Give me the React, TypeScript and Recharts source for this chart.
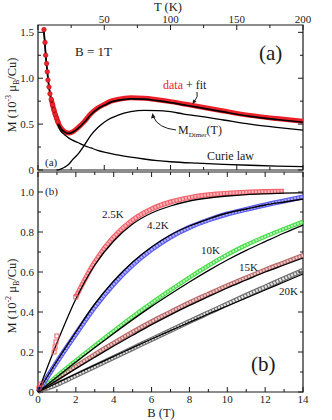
import React from 'react';
import { LineChart, Line, XAxis, YAxis, ReferenceArea } from 'recharts';

// panel (a): M(T) at B = 1T, units 10^-3 muB/Cu
const tempFit = [4.3, 5, 6, 7, 8, 9, 10, 12, 14, 16, 18, 20, 23, 26, 30, 35, 40, 45, 50, 55, 60, 70, 80, 90, 100, 110, 120, 140, 160, 180, 200];
const mFit = [1.53, 1.42, 1.22, 1.07, 0.94, 0.84, 0.76, 0.645, 0.555, 0.485, 0.44, 0.415, 0.4, 0.41, 0.45, 0.52, 0.605, 0.665, 0.705, 0.74, 0.758, 0.776, 0.772, 0.755, 0.735, 0.71, 0.685, 0.633, 0.585, 0.55, 0.52];

const tempData = [10, 12, 14, 16, 18, 20, 23, 26, 30, 35, 40, 45, 50, 55, 60, 70, 80, 90, 100, 110, 120, 140, 160, 180, 200];
const mData = [0.77, 0.655, 0.565, 0.49, 0.445, 0.418, 0.403, 0.415, 0.458, 0.53, 0.615, 0.675, 0.715, 0.75, 0.768, 0.786, 0.782, 0.765, 0.745, 0.72, 0.695, 0.643, 0.595, 0.56, 0.53];

const tempLow = [4.5, 5.3, 5.8, 6.5, 7, 7.5, 8.3, 9, 10, 11, 12, 13, 14, 15];
const mLow = [1.53, 1.39, 1.25, 1.16, 1.07, 0.98, 0.905, 0.83, 0.77, 0.71, 0.655, 0.605, 0.565, 0.525];

const tempDimer = [14, 16, 18, 20, 23, 26, 30, 35, 40, 45, 50, 55, 60, 70, 80, 90, 100, 110, 120, 140, 160, 180, 200];
const mDimer = [0, 0.005, 0.015, 0.03, 0.06, 0.11, 0.17, 0.27, 0.38, 0.46, 0.52, 0.565, 0.595, 0.635, 0.65, 0.648, 0.635, 0.61, 0.59, 0.545, 0.5, 0.465, 0.435];

const tempCurie = [4.3, 5, 6, 7, 8, 9, 10, 12, 14, 16, 18, 20, 23, 26, 30, 35, 40, 45, 50, 60, 70, 80, 90, 100, 120, 140, 160, 180, 200];
const mCurie = [1.53, 1.42, 1.22, 1.07, 0.94, 0.84, 0.76, 0.635, 0.54, 0.455, 0.41, 0.385, 0.35, 0.325, 0.3, 0.265, 0.24, 0.215, 0.195, 0.165, 0.14, 0.12, 0.103, 0.09, 0.074, 0.062, 0.052, 0.043, 0.036];

// panel (b): M(B) isotherms, units 10^-2 muB/Cu
const field = [0, 1, 2, 3, 4, 5, 6, 7, 8, 9, 10, 11, 12, 13, 14];
const fit25 = [0, 0.245, 0.465, 0.635, 0.755, 0.84, 0.895, 0.93, 0.955, 0.97, 0.98, 0.987, 0.991, 0.994, 0.996];
const field25 = [2, 3, 4, 5, 6, 7, 8, 9, 10, 11, 12, 13];
const data25 = [0.475, 0.65, 0.775, 0.86, 0.915, 0.95, 0.972, 0.986, 0.994, 0.999, 1.002, 1.004];
const fieldLow25 = [0.05, 0.15, 0.85, 0.9, 0.95, 1.0, 2.0];
const dataLow25 = [0.02, 0.04, 0.2, 0.225, 0.25, 0.28, 0.475];
const fit42 = [0, 0.155, 0.3, 0.44, 0.555, 0.65, 0.725, 0.785, 0.83, 0.865, 0.895, 0.915, 0.935, 0.95, 0.965];
const data42 = [0, 0.15, 0.29, 0.425, 0.54, 0.635, 0.712, 0.775, 0.823, 0.86, 0.89, 0.913, 0.935, 0.955, 0.975];
const fit10 = [0, 0.075, 0.15, 0.222, 0.293, 0.362, 0.428, 0.49, 0.55, 0.607, 0.66, 0.708, 0.752, 0.795, 0.835];
const data10 = [0, 0.08, 0.157, 0.232, 0.305, 0.377, 0.445, 0.51, 0.573, 0.632, 0.687, 0.735, 0.777, 0.815, 0.852];
const fit15 = [0, 0.058, 0.117, 0.174, 0.23, 0.284, 0.337, 0.386, 0.433, 0.477, 0.52, 0.56, 0.6, 0.635, 0.67];
const data15 = [0, 0.065, 0.128, 0.188, 0.245, 0.3, 0.352, 0.4, 0.447, 0.49, 0.532, 0.572, 0.611, 0.647, 0.683];
const fit20 = [0, 0.045, 0.09, 0.134, 0.178, 0.222, 0.265, 0.307, 0.348, 0.39, 0.43, 0.47, 0.51, 0.55, 0.59];
const data20 = [0.005, 0.038, 0.083, 0.128, 0.173, 0.218, 0.263, 0.307, 0.352, 0.396, 0.44, 0.483, 0.525, 0.567, 0.608];

const tTicks = [0, 25, 50, 75, 100, 125, 150, 175, 200];
const maTicks = [0, 0.25, 0.5, 0.75, 1, 1.25, 1.5];
const bTicks = [0, 1, 2, 3, 4, 5, 6, 7, 8, 9, 10, 11, 12, 13, 14];
const mbTicks = [0, 0.1, 0.2, 0.3, 0.4, 0.5, 0.6, 0.7, 0.8, 0.9, 1.0];

const rows = (xs: number[], ys: number[]) => xs.map((x, i) => ({ x, y: ys[i] }));

const serif = "'Liberation Serif', 'Times New Roman', 'DejaVu Serif', serif";
const INK = '#1a1a1a';
const PA = { l: 38, r: 303, t: 25, b: 170 };
const PB = { l: 38, r: 303, t: 172, b: 392 };
const txt = { fontFamily: serif };

const TopTick = (p: any) => {
  const v = p.payload.value;
  const major = v % 50 === 0;
  const len = major ? 5 : 3;
  return (
    <g>
      <line x1={p.x} x2={p.x} y1={PA.t} y2={PA.t + len} stroke={INK} />
      <line x1={p.x} x2={p.x} y1={PA.b} y2={PA.b - len} stroke={INK} />
      {major && v > 0 && (
        <text x={p.x} y={23} textAnchor="middle" fontSize={11} style={txt} fill={INK}>{v}</text>
      )}
    </g>
  );
};

const LeftTickA = (p: any) => {
  const v = p.payload.value;
  const major = Math.round(v * 4) % 2 === 0;
  const len = major ? 5 : 3;
  return (
    <g>
      <line x1={PA.l} x2={PA.l + len} y1={p.y} y2={p.y} stroke={INK} />
      <line x1={PA.r} x2={PA.r - len} y1={p.y} y2={p.y} stroke={INK} />
      {major && (
        <text x={34} y={p.y + 3.5} textAnchor="end" fontSize={11} style={txt} fill={INK}>{v === 0 ? '0' : v.toFixed(1)}</text>
      )}
    </g>
  );
};

const BottomTick = (p: any) => {
  const v = p.payload.value;
  const major = v % 2 === 0;
  const len = major ? 5 : 3;
  return (
    <g>
      <line x1={p.x} x2={p.x} y1={PB.b} y2={PB.b - len} stroke={INK} />
      <line x1={p.x} x2={p.x} y1={PB.t} y2={PB.t + len} stroke={INK} />
      {major && (
        <text x={p.x} y={403} textAnchor="middle" fontSize={11} style={txt} fill={INK}>{v}</text>
      )}
    </g>
  );
};

const LeftTickB = (p: any) => {
  const v = p.payload.value;
  const major = Math.round(v * 10) % 2 === 0;
  const len = major ? 5 : 3;
  return (
    <g>
      <line x1={PB.l} x2={PB.l + len} y1={p.y} y2={p.y} stroke={INK} />
      <line x1={PB.r} x2={PB.r - len} y1={p.y} y2={p.y} stroke={INK} />
      {major && (
        <text x={34} y={p.y + 3.5} textAnchor="end" fontSize={11} style={txt} fill={INK}>{v === 0 ? '0' : v.toFixed(1)}</text>
      )}
    </g>
  );
};

const squareDot = (p: any) => (
  <rect key={`sq-${p.index}`} x={p.cx - 2} y={p.cy - 2} width={4} height={4} fill="none" stroke="#f0505c" strokeWidth={0.9} />
);

const band = (key: string, data: any[], outer: string, inner: string, w: number) => [
  <Line key={key + 'o'} data={data} dataKey="y" type="monotone" stroke={outer} strokeWidth={w} dot={false} activeDot={false} isAnimationActive={false} />,
  <Line key={key + 'i'} data={data} dataKey="y" type="monotone" stroke={inner} strokeWidth={w - 2.2} strokeDasharray="2 1.2" dot={false} activeDot={false} isAnimationActive={false} />,
];

const fitLine = (key: string, data: any[], w = 1.3) => (
  <Line key={key} data={data} dataKey="y" type="monotone" stroke="#000" strokeWidth={w} dot={false} activeDot={false} isAnimationActive={false} />
);

export default function App() {
  return (
    <div style={{ position: 'absolute', left: 0, top: 0, width: 332, height: 420, background: '#fff', fontFamily: serif }}>
      <div style={{ position: 'absolute', left: 0, top: 0 }}>
        <LineChart width={332} height={420} margin={{ top: 0, right: 29, bottom: 250, left: 0 }}>
          <XAxis xAxisId={0} dataKey="x" type="number" orientation="top" domain={[0, 200]} ticks={tTicks} interval={0} height={25} axisLine={false} tickLine={false} tick={<TopTick />} />
          <YAxis yAxisId={0} type="number" domain={[0, 1.58]} ticks={maTicks} interval={0} width={38} axisLine={false} tickLine={false} tick={<LeftTickA />} />
          <ReferenceArea x1={0} x2={200} y1={0} y2={1.58} fill="none" stroke={INK} strokeWidth={1.2} ifOverflow="visible" />
          <Line data={rows(tempData, mData)} dataKey="y" type="monotone" stroke="#ec2028" strokeWidth={5} dot={false} activeDot={false} isAnimationActive={false} />
          <Line data={rows(tempLow, mLow)} dataKey="y" stroke="none" dot={{ r: 2.3, fill: '#e8242c', stroke: '#c01018', strokeWidth: 0.6 }} activeDot={false} isAnimationActive={false} />
          {fitLine('dimer', rows(tempDimer, mDimer), 1.3)}
          {fitLine('curie', rows(tempCurie, mCurie), 1.3)}
          {fitLine('fitA', rows(tempFit, mFit), 1.7)}
        </LineChart>
      </div>
      <div style={{ position: 'absolute', left: 0, top: 0 }}>
        <LineChart width={332} height={420} margin={{ top: 172, right: 29, bottom: 0, left: 0 }}>
          <XAxis xAxisId={0} dataKey="x" type="number" orientation="bottom" domain={[0, 14]} ticks={bTicks} interval={0} height={28} axisLine={false} tickLine={false} tick={<BottomTick />} />
          <YAxis yAxisId={0} type="number" domain={[0, 1.1]} ticks={mbTicks} interval={0} width={38} axisLine={false} tickLine={false} tick={<LeftTickB />} />
          <ReferenceArea x1={0} x2={14} y1={0} y2={1.1} fill="none" stroke={INK} strokeWidth={1.2} ifOverflow="visible" />
          {band('d20', rows(field, data20), '#6e6e6e', '#e4e4e4', 5)}
          {band('d15', rows(field, data15), '#b86868', '#ebc8c8', 4.6)}
          {band('d10', rows(field, data10), '#48dc48', '#c0f5c0', 4.2)}
          {band('d42', rows(field, data42), '#5a5af0', '#b0b0f8', 5)}
          {band('d25', rows(field25, data25), '#f2606a', '#fab4b9', 5)}
          <Line data={rows(fieldLow25, dataLow25)} dataKey="y" stroke="none" dot={squareDot} activeDot={false} isAnimationActive={false} />
          {fitLine('f20', rows(field, fit20))}
          {fitLine('f15', rows(field, fit15))}
          {fitLine('f10', rows(field, fit10))}
          {fitLine('f42', rows(field, fit42))}
          {fitLine('f25', rows(field, fit25))}
        </LineChart>
      </div>
      <svg width={332} height={420} style={{ position: 'absolute', left: 0, top: 0, pointerEvents: 'none', fontFamily: serif }} fill={INK}>
        <text x={168} y={11} textAnchor="middle" fontSize={12.5} style={txt}>T (K)</text>
        <text x={161} y={417} textAnchor="middle" fontSize={12.5} style={txt}>B (T)</text>
        <text transform="translate(16 95) rotate(-90)" textAnchor="middle" fontSize={12.5} style={txt}>
          M (10<tspan fontSize={8} dy={-5}>-3</tspan><tspan dy={5}> μ</tspan><tspan fontSize={8} dy={3}>B</tspan><tspan dy={-3}>/Cu)</tspan>
        </text>
        <text transform="translate(16 296) rotate(-90)" textAnchor="middle" fontSize={12.5} style={txt}>
          M (10<tspan fontSize={8} dy={-5}>-2</tspan><tspan dy={5}> μ</tspan><tspan fontSize={8} dy={3}>B</tspan><tspan dy={-3}>/Cu)</tspan>
        </text>

        <text x={75} y={56} fontSize={13} style={txt}>B = 1T</text>
        <text x={259} y={60} fontSize={21} style={txt}>(a)</text>
        <text x={163} y={89} fontSize={12} style={txt}><tspan fill="#f01c24">data</tspan> + fit</text>
        <path d="M197,92 Q198.5,97 194.5,101" fill="none" stroke={INK} strokeWidth={1} />
        <path d="M192.5,104 L193.2,99.5 L196.5,101.5 Z" fill={INK} />
        <text x={178} y={134} fontSize={12} style={txt}>M<tspan fontSize={7} dy={3}>Dimer</tspan><tspan dy={-3}>(T)</tspan></text>
        <path d="M176,130 Q158,128 153.5,117" fill="none" stroke={INK} strokeWidth={1} />
        <path d="M152.5,113 L151,118.5 L155.5,117.5 Z" fill={INK} />
        <text x={207} y={160} fontSize={12} style={txt}>Curie law</text>
        <text x={45} y={166} fontSize={11} style={txt}>(a)</text>

        <text x={45} y={195} fontSize={11} style={txt}>(b)</text>
        <text x={102} y={218} fontSize={11} style={txt}>2.5K</text>
        <text x={147} y={229} fontSize={11} style={txt}>4.2K</text>
        <text x={201} y={254} fontSize={11} style={txt}>10K</text>
        <text x={239} y={271} fontSize={11} style={txt}>15K</text>
        <text x={279} y={295} fontSize={11} style={txt}>20K</text>
        <text x={251} y={371} fontSize={21} style={txt}>(b)</text>
      </svg>
    </div>
  );
}
